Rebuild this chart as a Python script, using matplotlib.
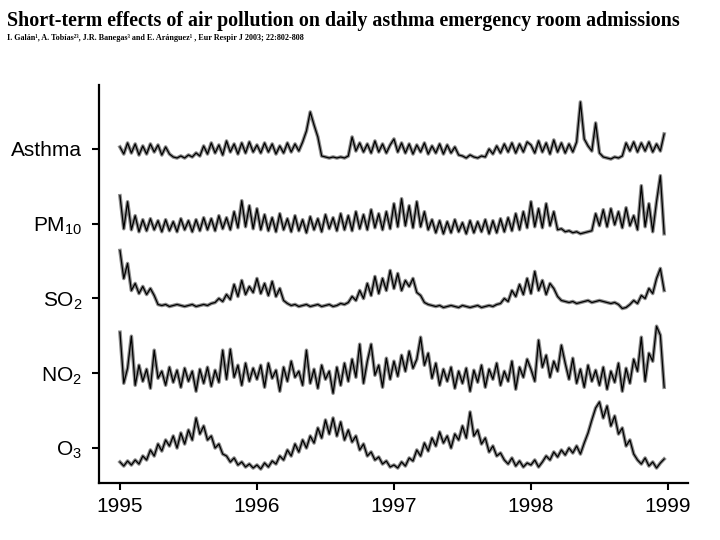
import numpy as np
import matplotlib
matplotlib.use("Agg")
import matplotlib.pyplot as plt

## the data: values read roughly every 10 days (36 per year), 1995-1998,
## in pixel-ish offsets from each series' own tick line (positive = up)
series_names = ["O3", "NO2", "SO2", "PM10", "Asthma"]
tick_labels = [r"O$_3$", r"NO$_2$", r"SO$_2$", r"PM$_{10}$", "Asthma"]
years = [1995, 1996, 1997, 1998]
pts_per_year = 36

asthma = [
    2, -5, 6, -4, 5, -6, 3, -5, 5, -3, 4, -6, 2, -5, -8, -9, -7, -9, -6, -8, -4, -7, 3, -5, 6, -4, 4, -6, 8, -3, 5, -5, 6, -4, 7, -3,
    4, -4, 6, -3, 5, -5, 3, -4, 6, -3, 5, -2, 7, 18, 37, 24, 12, -7, -8, -9, -8, -9, -8, -9, -7, 12, -2, 6, -3, 5, -4, 8, -3, 5, -4, 4,
    10, -3, 6, -4, 5, -5, 4, -3, 6, -5, 3, -4, 5, -5, 4, -4, 2, -6, -7, -9, -6, -8, -9, -7, -8, 0, -5, 3, -4, 5, -3, 6, -4, 5, -3, 7,
    4, -4, 8, -3, 6, -5, 9, -3, 6, -4, 5, -3, 7, 47, 10, 3, -2, 26, -4, -8, -9, -10, -8, -9, -7, 6, -2, 7, -3, 6, -2, 7, -3, 5, -2, 15,
]
pm10 = [
    28, -5, 22, -6, 8, -8, 4, -7, 5, -6, 3, -8, 4, -7, 2, -8, 5, -6, 3, -8, 4, -7, 6, -6, 5, -7, 8, -5, 6, -6, 12, -4, 23, -3, 18, -5,
    15, -6, 9, -7, 6, -8, 10, -6, 5, -8, 8, -7, 4, -9, 7, -6, 5, -8, 9, -5, 6, -7, 10, -6, 8, -7, 12, -5, 9, -6, 14, -4, 10, -6, 12, -5,
    20, -3, 25, -2, 18, -4, 22, -3, 12, -6, 4, -9, 3, -10, 2, -9, 4, -8, 1, -10, 3, -9, 2, -8, 4, -10, 3, -9, 5, -8, 6, -7, 10, -6, 12, -4,
    22, -3, 15, -4, 20, -2, 12, -6, -5, -8, -7, -9, -8, -10, -9, -8, -7, 10, -2, 14, -3, 15, -1, 12, -4, 16, -2, 8, -6, 38, -3, 20, -8, 22, 48, -10,
]
so2 = [
    48, 20, 35, 8, 15, 5, 12, 4, 10, 3, -6, -7, -6, -8, -7, -6, -7, -8, -7, -6, -8, -7, -6, -7, -5, -4, 0, -3, 4, -1, 14, 2, 18, 4, 12, 6,
    20, 5, 15, 3, 17, 2, 10, -2, -5, -7, -6, -8, -7, -6, -8, -7, -6, -8, -7, -6, -8, -7, -5, -6, -4, 2, -2, 8, 0, 15, 3, 22, 5, 20, 8, 28,
    10, 25, 8, 18, 12, 20, 6, 3, -4, -6, -7, -8, -7, -9, -8, -7, -8, -9, -7, -8, -9, -8, -7, -9, -8, -7, -8, -6, -5, 0, -3, 8, 2, 14, 4, 20,
    5, 27, 8, 18, 4, 15, 10, 2, -2, -3, -4, -3, -5, -4, -3, -2, -4, -3, -2, -3, -4, -5, -4, -6, -10, -9, -6, -2, -5, 3, 0, 10, 5, 20, 30, 8,
]
no2 = [
    41, -10, 5, 37, -12, 8, -8, 4, -15, 23, -5, 2, -12, 6, -9, 3, -14, 5, -8, 2, -18, 4, -10, 6, -13, 3, -9, 23, -6, 24, -4, 8, -12, 10, -8, 5,
    -6, 8, -14, 10, -5, 3, -18, 6, -8, 12, -4, 2, -12, 23, -10, 4, -15, 8, -6, 2, -20, 6, -12, 10, -8, 14, -4, 29, -10, 12, 29, -2, 8, -14, 15, -6,
    12, -3, 18, 2, 22, 5, 14, 36, 8, 20, -5, 10, -12, 4, -8, 6, -15, 2, -10, 5, -18, 3, -9, 8, -14, 4, -6, 10, -12, 2, -8, 12, -16, 6, -4, 14,
    4, -8, 33, 6, 18, -4, 12, 2, 28, 10, -6, 15, -10, 4, -14, 8, -8, 3, -12, 6, -16, 2, -9, 10, -18, 5, -10, 14, 2, 36, -8, 20, 12, 47, 38, -14,
]
o3 = [
    -14, -18, -13, -17, -12, -16, -8, -12, -2, -8, 4, -3, 8, 2, 12, 0, 15, 4, 18, 8, 30, 14, 22, 8, 12, 0, 4, -6, -8, -14, -10, -17, -14, -19, -16, -20,
    -17, -21, -15, -19, -13, -16, -8, -12, -2, -8, 4, -4, 8, 0, 12, 5, 20, 10, 28, 14, 30, 12, 26, 8, 18, 6, 12, -2, 4, -8, -4, -12, -9, -16, -13, -19,
    -17, -20, -14, -18, -10, -13, -2, -8, 5, -3, 10, 2, 16, 5, 12, 0, 14, 8, 22, 10, 36, 12, 18, 4, 10, -4, 2, -8, -5, -12, -16, -10, -18, -13, -19, -15,
    -17, -12, -19, -14, -8, -12, -4, -9, -2, -7, 0, -5, 2, -6, 5, 15, 28, 40, 46, 30, 42, 22, 32, 14, 20, 2, 8, -6, -12, -16, -10, -18, -14, -20, -15, -11,
]

plt.rcParams["font.family"] = ["Liberation Sans", "DejaVu Sans"]
plt.rcParams["mathtext.fontset"] = "custom"
plt.rcParams["mathtext.rm"] = "Liberation Sans"
plt.rcParams["mathtext.it"] = "Liberation Sans"

fig = plt.figure(figsize=(7.2, 5.4), dpi=100)
ax = fig.add_axes([0.1375, 0.1056, 0.818, 0.737])

t = np.concatenate([y + np.arange(pts_per_year) / pts_per_year for y in years])
scale = 74.75   # pixel offsets -> spacing between series
data = [o3, no2, so2, pm10, asthma]
for level, vals in enumerate(data):
    y = level + np.array(vals) / scale
    ax.plot(t, y, color="#8c8c8c", lw=2.6)
    ax.plot(t, y, color="black", lw=0.9)

ax.set_xlim(1994.847, 1999.146)
ax.set_ylim(-0.468, 4.856)
ax.set_xticks(years + [1999])
ax.set_xticklabels([str(y) for y in years + [1999]], fontsize=15)
ax.set_yticks(range(len(series_names)))
ax.set_yticklabels(tick_labels, fontsize=15)
ax.tick_params(axis="y", length=5, width=1.5, pad=7)
ax.tick_params(axis="x", length=5, width=1.5, pad=5)

for side in ["top", "right"]:
    ax.spines[side].set_visible(False)
for side in ["left", "bottom"]:
    ax.spines[side].set_linewidth(1.6)

fig.text(0.01, 0.952, "Short-term effects of air pollution on daily asthma emergency room admissions",
         family="Liberation Serif", fontweight="bold", fontsize=14.4, va="baseline")
fig.text(0.01, 0.925, "I. Galán¹, A. Tobías²³, J.R. Banegas³ and E. Aránguez¹ , Eur Respir J 2003; 22:802-808",
         family="Liberation Serif", fontweight="bold", fontsize=5.9, va="baseline")

fig.savefig("out.png", dpi=100)
